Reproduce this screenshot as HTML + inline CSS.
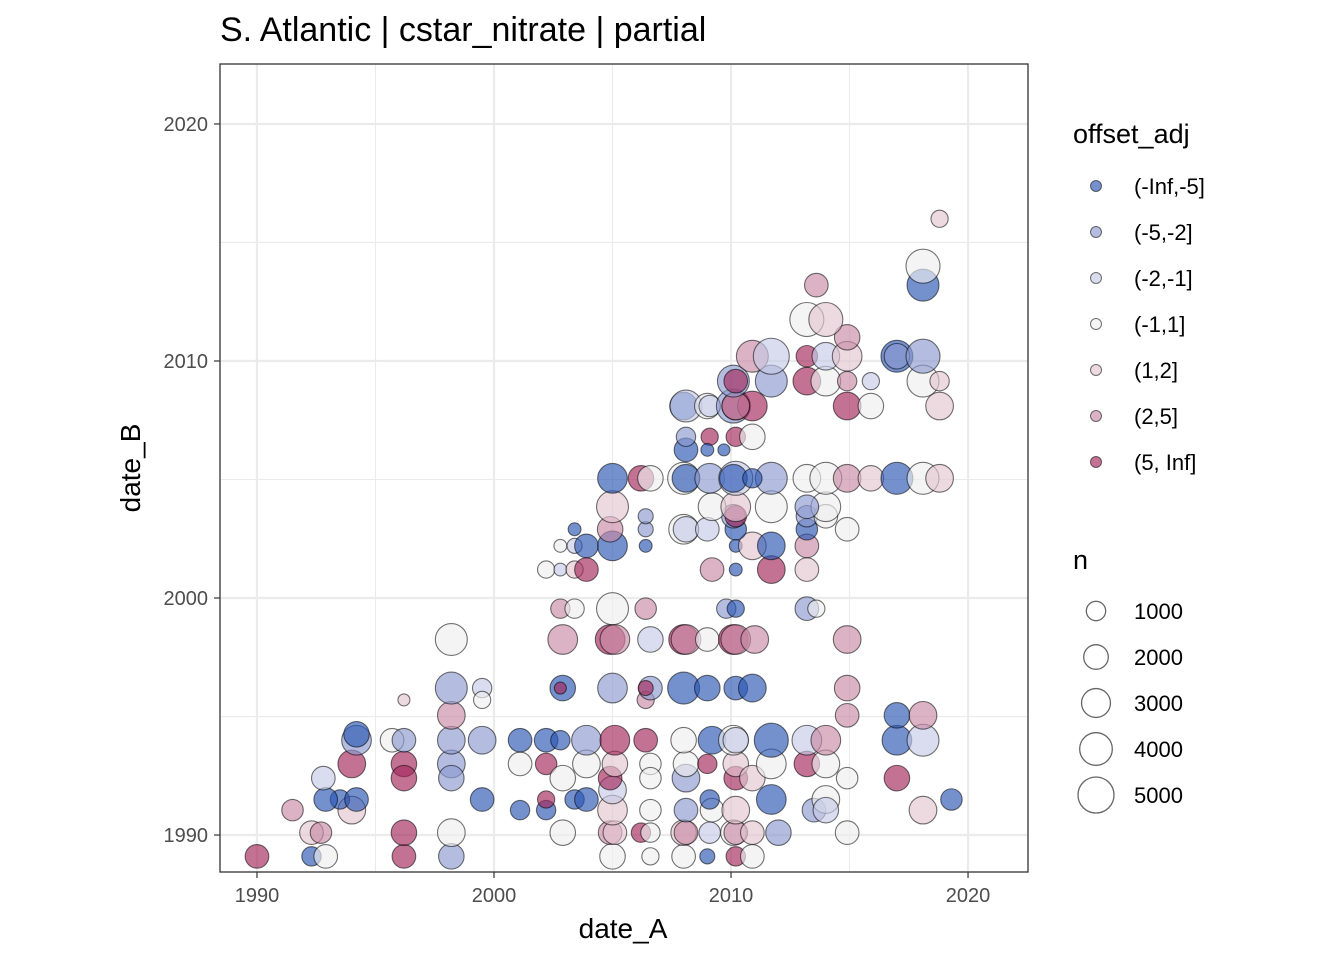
<!DOCTYPE html>
<html><head><meta charset="utf-8"><style>
body{margin:0;background:#fff;font-family:"Liberation Sans",sans-serif;}
svg text{font-family:"Liberation Sans",sans-serif;}
</style></head><body>
<svg id="chart" width="1344" height="960" xmlns="http://www.w3.org/2000/svg">
<rect width="1344" height="960" fill="#fff"/>
<text x="220" y="41" font-size="34" fill="#000" style="font-size:34px">S. Atlantic | cstar_nitrate | partial</text>
<g id="grid"></g>
<g id="points"></g>
<rect x="220" y="64" width="808" height="808" fill="none" stroke="#333" stroke-width="1.3"/>
<g id="axes"></g>
<text x="623" y="938" font-size="28" text-anchor="middle">date_A</text>
<text transform="translate(140,468) rotate(-90)" font-size="28" text-anchor="middle">date_B</text>
<g id="legend"></g>
</svg>
<script>
const xs=[1990.0,1992.3,1992.9,1996.2,1998.2,2005.0,2006.6,2008.0,2009.0,2010.2,2010.9,
1992.3,1992.7,1996.2,1998.2,2002.9,2004.9,2005.1,2006.2,2006.6,2008.0,2008.1,2009.1,2010.1,2010.2,2010.9,2012.0,2014.9,
1991.5,1994.0,1993.5,1992.9,1994.2,1999.5,2001.1,2002.2,2002.2,2003.4,2003.9,2005.0,2005.0,2006.6,2008.1,2009.2,2009.1,2010.2,2011.7,2013.5,2014.0,2014.0,2018.1,2019.3,
1992.8,1994.0,1996.2,1996.2,1998.2,1998.2,2001.1,2002.2,2002.9,2003.9,2004.9,2005.1,2006.6,2006.6,2008.1,2008.1,2009.0,2010.2,2010.2,2010.9,2011.7,2013.2,2014.0,2014.9,2017.0,
1994.2,1994.2,1995.7,1996.2,1998.2,1999.5,2001.1,2002.2,2002.8,2003.9,2005.1,2006.4,2008.0,2009.2,2010.1,2010.2,2011.7,2013.2,2014.0,2017.0,2018.1,
2017.0,2018.1,1998.2,2006.4,2014.9,
1998.2,1999.5,1999.5,1996.2,2002.9,2002.8,2005.0,2006.6,2006.4,2008.0,2009.0,2010.2,2010.9,2014.9,
1998.2,2002.9,2004.9,2005.1,2006.6,2008.0,2008.1,2009.0,2010.1,2010.2,2011.0,2014.9,
2002.8,2003.4,2005.0,2006.4,2009.8,2010.2,2013.2,2013.6,
2002.2,2002.8,2003.4,2003.9,2009.2,2010.2,2011.7,2013.2,
2002.8,2003.4,2003.9,2005.0,2006.4,2010.2,2010.9,2011.7,2013.2,
2003.4,2004.9,2006.4,2008.0,2008.1,2009.0,2010.2,2013.2,2014.9,
2006.4,2010.1,2010.2,2013.2,2014.0,
2005.0,2009.2,2010.2,2011.7,2014.0,2013.2,
2005.0,2006.2,2006.6,2008.0,2008.1,2009.1,2010.2,2010.1,2011.7,2010.9,2013.2,2014.0,2014.9,2015.9,2017.0,2018.1,2018.8,
2008.1,2008.1,2009.1,2009.0,2009.7,2010.2,2010.9,
2008.0,2008.1,2009.0,2009.1,2010.1,2010.2,2010.9,2010.2,2014.9,2015.9,2018.8,
2010.1,2010.2,2011.7,2013.2,2014.0,2014.9,2015.9,2018.1,2018.8,
2010.9,2011.7,2013.2,2014.0,2014.9,2017.0,2017.0,2018.1,
2014.9,2013.2,2014.0,2013.6,2018.1,2018.1,2018.8];
const ys=[1989.1,1989.1,1989.1,1989.1,1989.1,1989.1,1989.1,1989.1,1989.1,1989.1,1989.1,
1990.1,1990.1,1990.1,1990.1,1990.1,1990.1,1990.1,1990.1,1990.1,1990.1,1990.1,1990.1,1990.1,1990.1,1990.1,1990.1,1990.1,
1991.05,1991.05,1991.5,1991.5,1991.5,1991.5,1991.05,1991.05,1991.5,1991.5,1991.5,1991.05,1991.9,1991.05,1991.05,1991.05,1991.5,1991.05,1991.5,1991.05,1991.5,1991.05,1991.05,1991.5,
1992.4,1993.0,1993.0,1992.4,1993.0,1992.4,1993.0,1993.0,1992.4,1993.0,1992.4,1993.0,1993.0,1992.4,1992.4,1993.0,1993.0,1992.4,1993.0,1992.4,1993.0,1993.0,1993.0,1992.4,1992.4,
1994.0,1994.25,1994.0,1994.0,1994.0,1994.0,1994.0,1994.0,1994.0,1994.0,1994.0,1994.0,1994.0,1994.0,1994.0,1994.0,1994.0,1994.0,1994.0,1994.0,1994.0,
1995.05,1995.05,1995.05,1995.7,1995.05,
1996.2,1996.2,1995.7,1995.7,1996.2,1996.2,1996.2,1996.2,1996.2,1996.2,1996.2,1996.2,1996.2,1996.2,
1998.25,1998.25,1998.25,1998.25,1998.25,1998.25,1998.25,1998.25,1998.25,1998.25,1998.25,1998.25,
1999.55,1999.55,1999.55,1999.55,1999.55,1999.55,1999.55,1999.55,
2001.2,2001.2,2001.2,2001.2,2001.2,2001.2,2001.2,2001.2,
2002.2,2002.2,2002.2,2002.2,2002.2,2002.2,2002.2,2002.2,2002.2,
2002.9,2002.9,2002.9,2002.9,2002.9,2002.9,2002.9,2002.9,2002.9,
2003.45,2003.45,2003.45,2003.45,2003.45,
2003.85,2003.85,2003.85,2003.85,2003.85,2003.85,
2005.05,2005.05,2005.05,2005.05,2005.05,2005.05,2005.05,2005.05,2005.05,2005.05,2005.05,2005.05,2005.05,2005.05,2005.05,2005.05,2005.05,
2006.25,2006.8,2006.8,2006.25,2006.25,2006.8,2006.8,
2008.1,2008.1,2008.1,2008.1,2008.1,2008.1,2008.1,2008.1,2008.1,2008.1,2008.1,
2009.15,2009.15,2009.15,2009.15,2009.15,2009.15,2009.15,2009.15,2009.15,
2010.2,2010.2,2010.2,2010.2,2010.2,2010.2,2010.2,2010.2,
2011.0,2011.75,2011.75,2013.2,2013.2,2014.0,2016.0];
const cats=[6,0,3,6,1,3,3,3,0,6,3,
4,5,6,3,3,5,4,6,3,4,5,2,3,5,4,1,3,
5,4,0,0,0,0,0,0,6,0,0,4,2,3,1,3,0,4,0,1,3,2,4,0,
2,6,6,6,1,1,3,6,3,3,6,4,3,3,1,3,6,6,4,4,3,6,3,3,6,
1,0,3,1,1,1,0,0,0,1,6,6,3,0,3,2,0,2,5,0,2,
0,5,5,5,5,
1,2,3,4,0,6,1,1,6,0,0,0,0,5,
3,5,6,5,2,6,5,3,6,5,5,5,
5,3,3,5,1,0,1,3,
3,2,4,6,5,0,6,4,
3,2,0,0,0,0,4,0,5,
0,5,1,3,2,2,0,0,3,
1,1,6,1,3,
4,3,4,3,3,1,
0,6,3,3,0,1,2,0,1,0,3,3,5,4,0,3,4,
0,1,6,0,0,6,3,
0,2,3,2,1,6,6,5,6,3,4,
1,6,1,6,3,5,2,3,4,
5,2,6,2,4,0,1,1,
5,3,4,5,0,3,4];
const ns=[1800,1000,1800,1800,2200,2200,660,1800,360,1000,1800,
1800,1375,2200,2700,2200,1800,1800,1000,1000,2200,1800,1375,2200,1800,1800,2200,1800,
1375,2700,1000,1800,1800,1800,1000,1000,660,1000,1800,3200,2700,1375,1800,1800,1000,2700,3200,1800,2700,2200,2700,1375,
1800,2700,2200,2200,2700,2200,1800,1375,2200,2700,1800,2200,1375,1375,2700,2200,1000,1800,2200,2200,3200,2200,2700,1375,2200,
3200,2200,1800,1800,2700,2700,1800,1800,1000,3200,3200,1800,2200,2700,3200,2200,4400,3200,3200,3200,3800,
2200,2700,2700,660,1800,
3800,1000,660,0,2200,0,3200,1800,360,3800,2200,1800,2700,2200,
3800,3200,3200,3200,2200,3200,3200,1800,3200,3200,2700,2700,
1000,1000,3800,1375,1000,660,1800,660,
660,90,660,1800,1800,90,2700,1800,
90,360,1800,3200,90,90,2700,2700,1800,
90,2200,360,3200,2200,1800,1375,1375,1800,
360,1800,1375,1375,1800,
3800,2700,3200,3800,3200,1800,
3200,2200,2200,3800,2700,3200,4400,2700,3800,1000,2700,3800,2700,2200,3800,3800,2700,
1800,1000,660,90,0,1000,2200,
2700,3800,2200,1375,4400,2700,3200,2700,2700,2200,2700,
3800,1800,3800,2700,3200,1000,660,3800,1000,
3800,5000,1375,2700,3200,3800,2200,4400,
2200,4400,4400,1800,3800,4400,660];
const catLabels=["(-Inf,-5]","(-5,-2]","(-2,-1]","(-1,1]","(1,2]","(2,5]","(5, Inf]"];
const sizeBreaks=[1000,2000,3000,4000,5000];
const xTicks=[1990,2000,2010,2020];
const yTicks=[1990,2000,2010,2020];
const colors=["#2956B2","#8C9AD0","#C6CBE6","#EEEEEE","#E3C5D0","#C88AA4","#A3265A"];
const NS="http://www.w3.org/2000/svg";
const X0=220,X1=1028,Y0=64,Y1=872,D0=1988.44,D1=2022.53;
const sx=v=>X0+(v-D0)/(D1-D0)*(X1-X0);
const sy=v=>Y1-(v-D0)/(D1-D0)*(Y1-Y0);
const sr=n=>Math.sqrt(36+0.0576*n);
function mk(tag,attrs,parent){const e=document.createElementNS(NS,tag);for(const k in attrs)e.setAttribute(k,attrs[k]);parent.appendChild(e);return e;}
const grid=document.getElementById('grid');
mk('rect',{x:X0,y:Y0,width:X1-X0,height:Y1-Y0,fill:'#fff'},grid);
for(let v=1990;v<=2020;v+=5){
  const major=v%10===0;
  let l=mk('line',{x1:sx(v),x2:sx(v),y1:Y0,y2:Y1,stroke:'#ebebeb','stroke-width':major?2.2:1.1},grid);
  
  
  l=mk('line',{y1:sy(v),y2:sy(v),x1:X0,x2:X1,stroke:'#ebebeb','stroke-width':major?2.2:1.1},grid);
  
  
}
const pts=document.getElementById('points');
for(let i=0;i<xs.length;i++){
  const c=mk('circle',{cx:sx(xs[i]),cy:sy(ys[i]),r:sr(ns[i]),fill:colors[cats[i]],'fill-opacity':0.65,stroke:'#000','stroke-opacity':0.55,'stroke-width':1.1},pts);
  
  
}
const axes=document.getElementById('axes');
xTicks.forEach(v=>{
  mk('line',{x1:sx(v),x2:sx(v),y1:Y1,y2:Y1+6,stroke:'#333','stroke-width':1.2},axes);
  const t=mk('text',{x:sx(v),y:Y1+30,'font-size':20,fill:'#4d4d4d','text-anchor':'middle'},axes);
  t.textContent=v;
  
  
});
yTicks.forEach(v=>{
  mk('line',{x1:X0-6,x2:X0,y1:sy(v),y2:sy(v),stroke:'#333','stroke-width':1.2},axes);
  const t=mk('text',{x:X0-12,y:sy(v)+7,'font-size':20,fill:'#4d4d4d','text-anchor':'end'},axes);
  t.textContent=v;
  
  
});
const lg=document.getElementById('legend');
let tt=mk('text',{x:1073,y:143,'font-size':27},lg);tt.textContent='offset_adj';


catLabels.forEach((lab,i)=>{
  const y=186+46*i;
  const c=mk('circle',{cx:1096,cy:y,r:5.5,fill:colors[i],'fill-opacity':0.65,stroke:'#000','stroke-opacity':0.55},lg);
  
  
  const t=mk('text',{x:1134,y:y+8,'font-size':22},lg);t.textContent=lab;
  
  
});
tt=mk('text',{x:1073,y:569,'font-size':27},lg);tt.textContent='n';


sizeBreaks.forEach((n,i)=>{
  const y=611+46*i;
  const c=mk('circle',{cx:1096,cy:y,r:sr(n),fill:'#fff',stroke:'#666','stroke-width':1.3},lg);
  
  
  const t=mk('text',{x:1134,y:y+8,'font-size':22},lg);t.textContent=n;
  
  
});
</script>
</body></html>
